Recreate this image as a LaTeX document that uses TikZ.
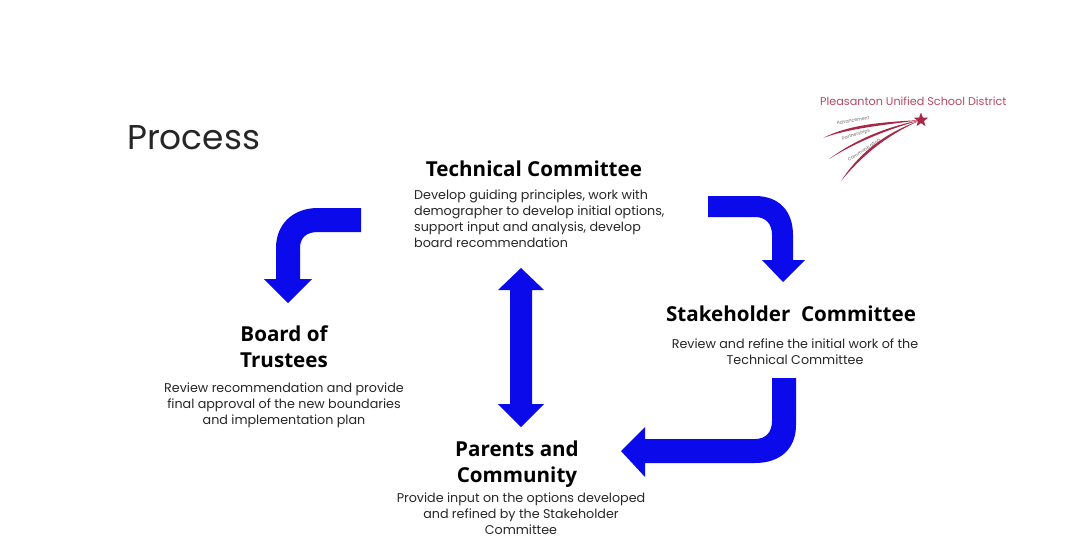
\documentclass[tikz,border=0pt]{standalone}
\usepackage{fontspec}
\usetikzlibrary{shapes.geometric}
\setmainfont{Poppins}
\newfontfamily\headfont{Open Sans}
\definecolor{blockblue}{RGB}{10,10,235}
\definecolor{logored}{RGB}{168,40,70}
\tikzset{
  blockarrow/.style={fill=blockblue,draw=none},
  heading/.style={font=\headfont\bfseries\fontsize{20.6}{26}\selectfont,align=center,text=black,inner sep=0pt},
  bodytext/.style={font=\fontsize{12.7}{16}\selectfont,text=black!85,inner sep=0pt},
  logolabel/.style={font=\fontsize{4.6}{5}\selectfont,text=black!60,inner sep=0pt}
}
\begin{document}
\begin{tikzpicture}[x=1pt,y=-1pt]
\useasboundingbox (0,0) rectangle (1071,544);
\node[font=\fontsize{34.4}{40}\selectfont,text=black!85,anchor=west,inner sep=0pt] (title) at (127,138) {Process};

% logo
\node[font=\fontsize{11.2}{13}\selectfont,text=logored!85,anchor=west,inner sep=0pt] (district) at (820,101) {Pleasanton Unified School District};
\node[star,star points=5,star point ratio=2.4,fill=logored,inner sep=0pt,minimum size=15pt] (logostar) at (921,120) {};
\coordinate (s1) at (823,138);
\coordinate (s2) at (829,159);
\coordinate (s3) at (841,181);
\fill[logored] (s1) .. controls (850,124) and (885,122) .. (logostar.center) .. controls (885,125) and (850,128) .. (s1);
\fill[logored] (s2) .. controls (855,140) and (885,127) .. (logostar.center) .. controls (885,130) and (855,143) .. (s2);
\fill[logored] (s3) .. controls (860,152) and (885,133) .. (logostar.center) .. controls (885,136) and (862,156) .. (s3);
\node[logolabel,rotate=9] (l1) at (853,120.5) {Advancement};
\node[logolabel,rotate=16] (l2) at (856,135) {Partnerships};
\node[logolabel,rotate=33] (l3) at (864,150) {Communication};

% text
\node[heading] (tc) at (534,169) {Technical Committee};
\node[bodytext,align=left,anchor=north west] (tcb) at (414,189.5) {Develop guiding principles, work with\\demographer to develop initial options,\\support input and analysis, develop\\board recommendation};
\node[heading] (sc) at (791,314) {Stakeholder\ \ Committee};
\node[bodytext,align=center,anchor=north] (scb) at (795,338.5) {Review and refine the initial work of the\\Technical Committee};
\node[heading,anchor=north] (bt) at (284,326) {Board of\\Trustees};
\node[bodytext,align=center,anchor=north] (btb) at (284,382.5) {Review recommendation and provide\\final approval of the new boundaries\\and implementation plan};
\node[heading,anchor=north] (pc) at (517,441) {Parents and\\Community};
\node[bodytext,align=center,anchor=north] (pcb) at (521,492.5) {Provide input on the options developed\\and refined by the Stakeholder\\Committee};

% block arrows
\fill[blockarrow] (361,208) -- (318,208) .. controls (293,208) and (276,224) .. (276,248) -- (276,279) -- (264,279) -- (288,303) -- (312,279) -- (300,279) -- (300,248) .. controls (300,238) and (306,232) .. (318,232) -- (361,232) -- cycle;
\fill[blockarrow] (708,196) -- (755,196) .. controls (780,196) and (793,212) .. (793,235) -- (793,260) -- (805,260) -- (783,282) -- (762,260) -- (772,260) -- (772,235) .. controls (772,224) and (766,217) .. (755,217) -- (708,217) -- cycle;
\fill[blockarrow] (772,378) -- (796,378) -- (796,425) .. controls (796,449) and (780,463) .. (755,463) -- (645,463) -- (645,477) -- (621,451) -- (645,427) -- (645,439) -- (755,439) .. controls (766,439) and (772,432) .. (772,421) -- cycle;
\fill[blockarrow] (521,268) -- (544,290) -- (532,290) -- (532,404) -- (544,404) -- (521,427) -- (498,404) -- (510,404) -- (510,290) -- (498,290) -- cycle;
\end{tikzpicture}
\end{document}
